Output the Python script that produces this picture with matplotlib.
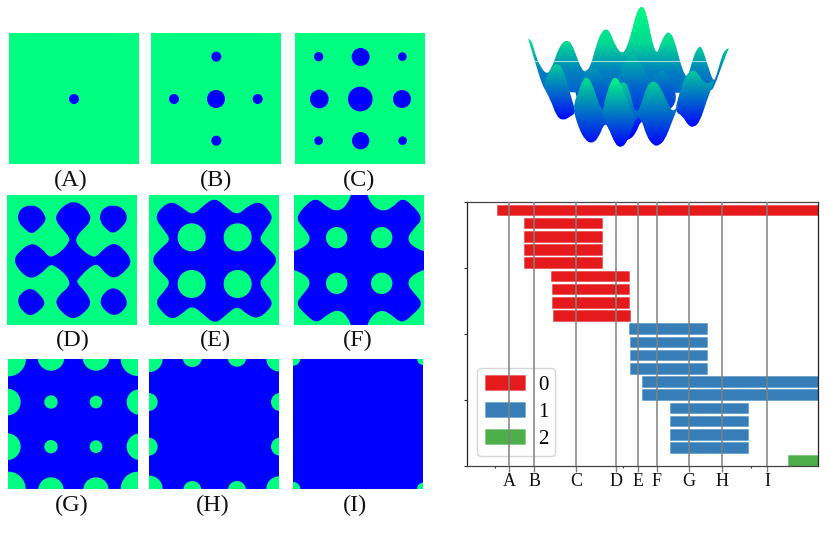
import numpy as np
import matplotlib
matplotlib.use("Agg")
import matplotlib.pyplot as plt
from matplotlib.patches import Circle, PathPatch, Patch
from matplotlib.path import Path
from matplotlib.colors import to_rgba

plt.rcParams['font.family'] = ['Liberation Serif', 'DejaVu Serif']
W, H = 830, 545
BLUE = plt.cm.winter(0.0)
GREEN = plt.cm.winter(1.0)

# ---------- thresholded panels: shapes ----------
A_dots = [(222, 237, 15)]
B_dots = [(648, 237, 27), (522, 237, 15), (773, 237, 15), (649, 110, 15), (649, 362, 15)]
C_dots = [(1081, 237, 37), (958, 237, 28), (1206, 237, 27), (1082, 111, 27), (1082, 362, 26),
          (956, 110, 14), (1207, 110, 13), (956, 362, 13), (1208, 362, 13)]

D_tl = [(90, 60), (118, 66), (138, 95), (135, 112), (112, 135), (95, 148), (74, 132), (54, 110), (54, 86), (66, 68)]
D_tr = [(340, 60), (368, 68), (384, 95), (372, 122), (340, 148), (318, 132), (300, 110), (300, 84), (315, 66)]
D_bl = [(52, 352), (60, 326), (92, 307), (120, 328), (138, 355), (118, 378), (92, 394), (68, 380)]
D_br = [(298, 352), (312, 322), (340, 306), (368, 322), (384, 352), (372, 376), (345, 394), (316, 380)]
D_cross = [(218, 49), (246, 58), (270, 85), (272, 108), (255, 128), (232, 150), (226, 172), (250, 198), (275, 215),
           (290, 215), (310, 192), (342, 172), (372, 192), (396, 228), (380, 255), (345, 282), (318, 268), (298, 242),
           (285, 238), (265, 250), (238, 278), (228, 292), (255, 318), (275, 352), (258, 380), (220, 405), (186, 384),
           (166, 355), (175, 332), (208, 305), (208, 285), (190, 262), (165, 243), (150, 238), (125, 265), (95, 282),
           (65, 266), (40, 228), (56, 200), (95, 172), (128, 192), (145, 215), (160, 215), (185, 198), (208, 172),
           (208, 155), (185, 130), (166, 105), (172, 82), (194, 60)]
E_outline = [(645, 37), (680, 68), (712, 92), (745, 62), (778, 49), (804, 72), (820, 100), (794, 135), (776, 165),
             (805, 190), (836, 225), (805, 262), (776, 290), (794, 322), (820, 352), (804, 378), (772, 402), (740, 388),
             (712, 362), (680, 388), (645, 418), (610, 388), (575, 360), (545, 388), (515, 404), (486, 382), (465, 350),
             (492, 320), (513, 290), (482, 262), (452, 225), (482, 190), (513, 165), (492, 135), (465, 100), (482, 68),
             (515, 49), (545, 66), (578, 92), (610, 62)]
E_holes = [(575, 157, 42), (713, 157, 42), (575, 297, 42), (713, 297, 42)]
F_outline = [(1060, 10), (1095, 10), (1112, 58), (1145, 80), (1178, 68), (1205, 38), (1235, 58), (1270, 100), (1242, 130),
             (1220, 160), (1240, 188), (1300, 208), (1300, 245), (1240, 266), (1220, 295), (1242, 325), (1270, 356),
             (1238, 390), (1205, 416), (1175, 390), (1145, 373), (1112, 394), (1095, 440), (1060, 440), (1043, 394),
             (1015, 373), (982, 388), (950, 416), (918, 390), (886, 356), (912, 325), (934, 295), (914, 266), (850, 245),
             (850, 208), (914, 188), (934, 160), (912, 130), (886, 100), (918, 58), (950, 38), (982, 68), (1015, 80),
             (1043, 58)]
F_holes = [(1010, 158, 32), (1145, 158, 32), (1010, 295, 32), (1145, 295, 32)]
G_holes = [(153, 156, 20), (288, 156, 19), (153, 290, 20), (288, 290, 19),
           (22, 156, 40), (22, 290, 40), (418, 156, 38), (420, 290, 40),
           (153, 22, 40), (288, 22, 40), (153, 420, 38), (288, 420, 38),
           (25, 26, 53), (414, 26, 52), (25, 417, 52), (414, 417, 52)]
H_holes = [(577, 22, 29), (711, 22, 28), (577, 420, 27), (711, 420, 27),
           (446, 156, 27), (446, 290, 27), (840, 156, 27), (840, 290, 27),
           (448, 26, 40), (837, 26, 38), (448, 417, 40), (837, 417, 38)]
I_holes = [(880, 26, 21), (1270, 26, 19), (880, 417, 21), (1270, 417, 19)]

# ---------- surface: ridge outlines ----------
ridge_back = [(55, 118), (55, 116), (65, 122), (75, 160), (90, 198), (110, 224), (125, 205), (140, 160), (155, 130), (170, 120),
              (185, 130), (200, 170), (215, 208), (228, 218), (243, 195), (260, 130), (275, 95), (288, 86), (300, 95),
              (315, 135), (335, 163), (350, 145), (365, 95), (380, 35), (396, 15), (410, 40), (425, 120), (440, 165),
              (450, 135), (465, 102), (478, 95), (492, 115), (510, 185), (525, 228), (535, 228), (550, 170), (565, 140),
              (575, 140), (590, 185), (610, 248), (620, 225), (635, 170), (645, 150), (657, 144), (657, 144),
              (640, 185), (615, 255), (600, 280), (110, 280), (95, 250), (78, 195), (55, 118)]
ridge_mid = [(185, 300), (215, 225), (235, 205), (255, 200), (275, 225), (300, 268), (318, 250), (340, 190), (358, 168),
             (370, 164), (385, 175), (405, 215), (420, 243), (440, 220), (460, 208), (480, 235), (505, 300),
             (470, 340), (395, 355), (378, 400), (358, 420), (340, 420), (300, 340)]
front_left = [(98, 258), (115, 218), (128, 197), (140, 190), (155, 200), (170, 240), (183, 290), (194, 325), (196, 340),
              (180, 350), (160, 362), (140, 350), (120, 295)]
front_mid = [(188, 322), (205, 275), (218, 240), (230, 230), (245, 245), (262, 300), (280, 338), (300, 290), (320, 258),
             (345, 241), (360, 275), (375, 340), (390, 325), (410, 258), (430, 240), (450, 258), (475, 315), (490, 338),
             (510, 305), (485, 368), (465, 420), (445, 438), (430, 436), (410, 410), (395, 358), (378, 350), (350, 430),
             (330, 443), (315, 430), (300, 393), (285, 365), (265, 415), (245, 431), (225, 420), (205, 382)]
front_right = [(495, 335), (505, 290), (525, 228), (548, 208), (565, 220), (585, 255), (612, 240), (612, 246), (590, 302),
               (570, 365), (552, 382), (535, 378), (518, 348)]
ridge_near = [(276, 338), (290, 280), (303, 243), (316, 230), (330, 245), (345, 285), (365, 335), (377, 350),
              (350, 430), (330, 443), (315, 430), (300, 393), (285, 365)]
back_ramp_y, back_ramp_t = [15, 130, 215, 300, 400], [1.0, 0.85, 0.5, 0.35, 0.0]
mid_ramp_y, mid_ramp_t = [164, 265, 420], [0.75, 0.38, 0.0]
left_ramp_y, left_ramp_t = [190, 360], [0.82, 0.02]
centre_ramp_y, centre_ramp_t = [230, 440], [0.88, 0.0]
right_ramp_y, right_ramp_t = [208, 380], [0.82, 0.02]
near_ramp_y, near_ramp_t = [230, 440], [1.0, 0.0]
white_line_x = [75, 590]
white_line_y = [184, 184]

# ---------- barcode ----------
births = [0.013, 0.223, 0.223, 0.229, 0.229, 0.4375, 0.443, 0.443, 0.448,
          1.049, 1.052, 1.052, 1.052, 1.151, 1.151, 1.365, 1.365, 1.37, 1.37, 2.291]
deaths = [2.52, 0.836, 0.836, 0.836, 0.836, 1.049, 1.047, 1.047, 1.052,
          1.659, 1.656, 1.659, 1.659, 2.52, 2.52, 1.974, 1.974, 1.974, 1.974, 2.52]
dims = [0] * 9 + [1] * 10 + [2]
dim_colors = ['#e41a1c', '#377eb8', '#4daf4a']
cut_positions = [0.107, 0.307, 0.635, 0.943, 1.113, 1.263, 1.513, 1.776, 2.125]
cut_labels = list("ABCDEFGHI")
minor_x = [0, 1, 2]
y_ticks = [0, 5, 10, 15, 20]

fig = plt.figure(figsize=(W / 100, H / 100), dpi=100)


def px_axes(x0, y0, x1, y1):
    return fig.add_axes([x0 / W, 1 - y1 / H, (x1 - x0) / W, (y1 - y0) / H])


def rounded(points):
    """Closed outline using the read points as quadratic control points."""
    p = np.asarray(points, float)
    m = (p + np.roll(p, -1, axis=0)) / 2
    verts = [m[-1]]
    codes = [Path.MOVETO]
    for i in range(len(p)):
        verts += [p[i], m[i]]
        codes += [Path.CURVE3, Path.CURVE3]
    return Path(verts, codes)


def panel(box, lims, bg, fg_polys=(), fg_dots=(), holes=(), title="", title_xy=(0, 0)):
    ax = px_axes(*box)
    ax.set_xlim(lims[0], lims[1])
    ax.set_ylim(lims[3], lims[2])
    ax.set_facecolor(bg)
    ax.set_xticks([])
    ax.set_yticks([])
    for s in ax.spines.values():
        s.set_visible(False)
    for poly in fg_polys:
        ax.add_patch(PathPatch(rounded(poly), fc=BLUE, ec='none'))
    for x, y, r in fg_dots:
        ax.add_patch(Circle((x, y), r, fc=BLUE, ec='none'))
    for x, y, r in holes:
        ax.add_patch(Circle((x, y), r, fc=GREEN, ec='none'))
    fig.text(title_xy[0] / W, 1 - title_xy[1] / H, title, ha='center', va='center', fontsize=17.5, color='#111111')


panel((9, 33.3, 138.7, 163.7), (27, 416, 40, 431), GREEN, fg_dots=A_dots, title="(A)", title_xy=(70.7, 180))
panel((151, 33.3, 280.7, 163.7), (453, 842, 40, 431), GREEN, fg_dots=B_dots, title="(B)", title_xy=(216, 180))
panel((295.3, 33.3, 425, 163.7), (886, 1275, 40, 431), GREEN, fg_dots=C_dots, title="(C)", title_xy=(358.7, 180))
panel((7.3, 195, 137, 325.3), (22, 411, 30, 421), GREEN, fg_polys=[D_tl, D_tr, D_bl, D_br, D_cross], title="(D)", title_xy=(72.7, 340.7))
panel((149.3, 195, 279, 325.3), (448, 837, 30, 421), GREEN, fg_polys=[E_outline], holes=E_holes, title="(E)", title_xy=(215, 340.7))
panel((294, 195, 423.7, 325.3), (882, 1271, 30, 421), GREEN, fg_polys=[F_outline], holes=F_holes, title="(F)", title_xy=(358, 340.7))
panel((8.3, 358.7, 138, 489), (25, 414, 26, 417), BLUE, holes=G_holes, title="(G)", title_xy=(71.7, 505))
panel((149.3, 358.7, 279, 489), (448, 837, 26, 417), BLUE, holes=H_holes, title="(H)", title_xy=(212.7, 505))
panel((293.3, 358.7, 423.3, 489), (880, 1270, 26, 417), BLUE, holes=I_holes, title="(I)", title_xy=(354.7, 505))

# surface: each ridge is one clipped vertical colour ramp
ax3 = px_axes(510, 0, 750, 155)
ax3.axis('off')
layers = [(ridge_back, back_ramp_y, back_ramp_t), (ridge_mid, mid_ramp_y, mid_ramp_t),
          (front_left, left_ramp_y, left_ramp_t), (front_right, right_ramp_y, right_ramp_t),
          (front_mid, centre_ramp_y, centre_ramp_t), (ridge_near, near_ramp_y, near_ramp_t)]
for outline, ramp_y, ramp_t in layers:
    rows = np.arange(0, 466, 2.0)
    ramp = np.interp(rows, ramp_y, ramp_t).reshape(-1, 1)
    im = ax3.imshow(ramp, cmap='winter', vmin=0, vmax=1, aspect='auto', extent=(0, 720, 466, 0),
                    origin='upper', interpolation='bilinear')
    clip = PathPatch(rounded(outline), transform=ax3.transData, fc='none', ec='none')
    ax3.add_patch(clip)
    im.set_clip_path(clip)
ax3.plot(white_line_x, white_line_y, color='white', lw=0.8, alpha=0.65)
ax3.set_xlim(0, 720)
ax3.set_ylim(465, 0)

# barcode
ax = px_axes(467.2, 202, 817.5, 466)
ax.set_xlim(-0.219, 2.52)
ax.set_ylim(0, 20)
n = len(births)
for i, (b, d, k) in enumerate(zip(births, deaths, dims)):
    ax.barh(n - 1 - i, d - b, left=b, height=0.8, align='edge', color=dim_colors[k],
            edgecolor=to_rgba(dim_colors[k], 0.4), linewidth=0.7, zorder=2)
for c in cut_positions:
    ax.axvline(c, color='#808080', lw=1.1, zorder=6)
ax.set_xticks(cut_positions)
ax.set_xticklabels(cut_labels, fontsize=13, color='#111111')
ax.tick_params(axis='x', length=4, width=1, color='#808080', pad=1)
ax.set_xticks(minor_x, minor=True)
ax.tick_params(axis='x', which='minor', length=1.5, width=0.8, color='#333333')
ax.set_yticks(y_ticks)
ax.set_yticklabels([])
ax.tick_params(axis='y', length=2, width=0.8, color='#333333')
for name, s in ax.spines.items():
    s.set_linewidth(0.9)
    s.set_color('#444444' if name in ('top', 'bottom') else '#222222')
handles = [Patch(fc=c, ec=to_rgba(c, 0.4), lw=0.5, label=str(i)) for i, c in enumerate(dim_colors)]
ax.legend(handles=handles, loc='lower left', bbox_to_anchor=(0.029, 0.037), borderaxespad=0, fontsize=15,
          handlelength=1.95, handleheight=0.72, labelspacing=0.36, handletextpad=0.6, borderpad=0.35)

fig.savefig("out.png", dpi=100)
